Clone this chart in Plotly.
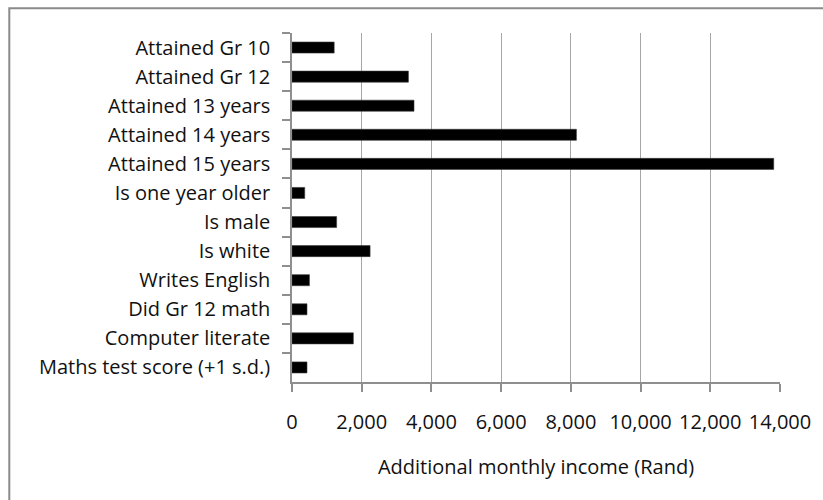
import plotly.graph_objects as go

# Estimated returns to characteristics, Rand per month
factors = [
    "Attained Gr 10",
    "Attained Gr 12",
    "Attained 13 years",
    "Attained 14 years",
    "Attained 15 years",
    "Is one year older",
    "Is male",
    "Is white",
    "Writes English",
    "Did Gr 12 math",
    "Computer literate",
    "Maths test score (+1 s.d.)",
]
income_gain = [1210, 3340, 3500, 8160, 13820, 365, 1280, 2240, 500, 430, 1760, 430]

x_ticks = [0, 2000, 4000, 6000, 8000, 10000, 12000, 14000]
x_tick_text = ["0", "2,000", "4,000", "6,000", "8,000", "10,000", "12,000", "14,000"]

W, H = 823, 500
ML, MR, MT, MB = 292, 43, 33, 118
plot_w = W - ML - MR
plot_h = H - MT - MB

FONT = "Open Sans"
FONT_SIZE = 20
AXIS_GREY = "#8f8f8f"

fig = go.Figure(
    go.Bar(
        x=income_gain,
        y=factors,
        orientation="h",
        marker=dict(color="#000000", line=dict(color="#3a3a3a", width=0.6)),
        hoverinfo="x+y",
    )
)


def to_paper_x(px):
    return (px - ML) / plot_w


def to_paper_y(py):
    return (H - MB - py) / plot_h


# Light frame around the whole chart
fig.add_shape(
    type="rect",
    xref="paper",
    yref="paper",
    x0=to_paper_x(9.3),
    x1=to_paper_x(830),
    y0=to_paper_y(510),
    y1=to_paper_y(8.3),
    line=dict(color="#8a8a8a", width=2),
    fillcolor="rgba(0,0,0,0)",
    layer="below",
)

fig.update_layout(
    width=W,
    height=H,
    margin=dict(l=ML, r=MR, t=MT, b=MB, pad=0),
    paper_bgcolor="white",
    plot_bgcolor="white",
    bargap=0.62,
    showlegend=False,
    font=dict(family=FONT, size=FONT_SIZE, color="#111111"),
    xaxis=dict(
        range=[0, 14000],
        tickmode="array",
        tickvals=x_ticks,
        ticktext=x_tick_text,
        showgrid=True,
        gridcolor="#a6a6a6",
        gridwidth=1,
        zeroline=False,
        showline=True,
        linecolor=AXIS_GREY,
        linewidth=1.5,
        ticks="outside",
        ticklen=8,
        tickwidth=1.5,
        tickcolor=AXIS_GREY,
        ticklabelstandoff=13,
        title=dict(
            text="Additional monthly income (Rand)",
            font=dict(family=FONT, size=FONT_SIZE, color="#111111"),
            standoff=26,
        ),
        fixedrange=True,
    ),
    yaxis=dict(
        type="category",
        categoryorder="array",
        categoryarray=factors,
        autorange="reversed",
        showgrid=False,
        zeroline=False,
        showline=True,
        linecolor=AXIS_GREY,
        linewidth=1.5,
        ticks="outside",
        tickson="boundaries",
        ticklen=8,
        tickwidth=1.5,
        tickcolor=AXIS_GREY,
        ticklabelstandoff=16,
        fixedrange=True,
    ),
)

fig.write_html("out.html")
